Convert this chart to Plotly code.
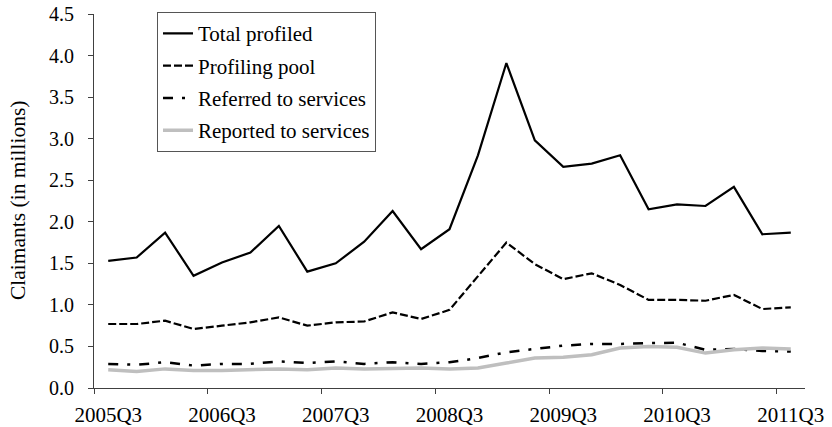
import plotly.graph_objects as go

quarters = ["2005Q3", "2005Q4", "2006Q1", "2006Q2", "2006Q3", "2006Q4", "2007Q1", "2007Q2",
            "2007Q3", "2007Q4", "2008Q1", "2008Q2", "2008Q3", "2008Q4", "2009Q1", "2009Q2",
            "2009Q3", "2009Q4", "2010Q1", "2010Q2", "2010Q3", "2010Q4", "2011Q1", "2011Q2",
            "2011Q3"]

total_profiled = [1.53, 1.57, 1.87, 1.35, 1.51, 1.63, 1.95, 1.40, 1.50, 1.76, 2.13, 1.67, 1.91,
                  2.80, 3.91, 2.98, 2.66, 2.70, 2.80, 2.15, 2.21, 2.19, 2.42, 1.85, 1.87]
profiling_pool = [0.77, 0.77, 0.81, 0.71, 0.75, 0.79, 0.85, 0.75, 0.79, 0.80, 0.91, 0.83, 0.94,
                  1.34, 1.75, 1.49, 1.31, 1.38, 1.24, 1.06, 1.06, 1.05, 1.12, 0.95, 0.97]
referred = [0.29, 0.28, 0.31, 0.27, 0.29, 0.29, 0.32, 0.30, 0.32, 0.29, 0.31, 0.29, 0.31,
            0.36, 0.43, 0.47, 0.51, 0.53, 0.53, 0.54, 0.545, 0.46, 0.47, 0.445, 0.44]
reported = [0.22, 0.20, 0.23, 0.21, 0.21, 0.22, 0.23, 0.22, 0.24, 0.23, 0.24, 0.24, 0.23,
            0.24, 0.30, 0.36, 0.37, 0.40, 0.48, 0.50, 0.49, 0.42, 0.46, 0.48, 0.47]

tick_labels = quarters[::4]
y_ticks = [0.0, 0.5, 1.0, 1.5, 2.0, 2.5, 3.0, 3.5, 4.0, 4.5]
y_title = "Claimants (in millions)"

xs = list(range(len(quarters)))
FONT = "Liberation Serif, Times New Roman, serif"

series = [
    ("Total profiled", total_profiled, dict(color="black", width=2.2)),
    ("Profiling pool", profiling_pool, dict(color="black", width=2.2, dash="8px,3px")),
    ("Referred to services", referred, dict(color="black", width=2.5, dash="10px,9px,3px,9px")),
    ("Reported to services", reported, dict(color="#bfbfbf", width=3.5)),
]

fig = go.Figure()
for i, (name, vals, line) in enumerate(series):
    fig.add_trace(go.Scatter(x=xs, y=vals, mode="lines", name=name, line=line,
                             legendgroup=f"g{i}", customdata=quarters,
                             hovertemplate="%{customdata}: %{y}<extra>" + name + "</extra>"))

L, R, T, B = 94, 27, 14, 39
W, H = 832, 427
plot_w = W - L - R

fig.update_layout(
    width=W, height=H,
    margin=dict(l=L, r=R, t=T, b=B, autoexpand=False),
    paper_bgcolor="white", plot_bgcolor="white",
    font=dict(family=FONT, size=20, color="black"),
    showlegend=True,
    legend=dict(x=0.0886, y=1.005, xanchor="left", yanchor="top",
                bordercolor="#555555", borderwidth=1, bgcolor="white",
                font=dict(family=FONT, size=21, color="black"),
                tracegroupgap=2, itemwidth=30),
    xaxis=dict(range=[-0.5, 24.5], tickmode="array", tickvals=xs[::4], ticktext=tick_labels,
               ticks="", showline=True, linecolor="#404040", linewidth=1,
               showgrid=False, zeroline=False, automargin=False,
               ticklabelstandoff=8, ticklabeloverflow="allow",
               tickfont=dict(family=FONT, size=21, color="black"),
               minor=dict(ticks="outside", tick0=-0.5, dtick=4, ticklen=5,
                          tickcolor="#404040", showgrid=False)),
    yaxis=dict(range=[0, 4.5], tickmode="array", tickvals=y_ticks,
               ticktext=[f"{v:.1f}" for v in y_ticks],
               ticks="outside", ticklen=5, tickcolor="#404040",
               showline=True, linecolor="#404040", linewidth=1,
               showgrid=False, zeroline=False, automargin=False,
               ticklabelstandoff=10, ticklabeloverflow="allow",
               tickfont=dict(family=FONT, size=20, color="black")),
    annotations=[dict(text=y_title, xref="paper", yref="paper",
                      x=-(L - 18) / plot_w, y=0.5, xanchor="center", yanchor="middle",
                      textangle=-90, showarrow=False,
                      font=dict(family=FONT, size=21.5, color="black"))],
)

fig.write_html("out.html", config={"displayModeBar": False},
               post_script="document.body.style.margin='0';")
